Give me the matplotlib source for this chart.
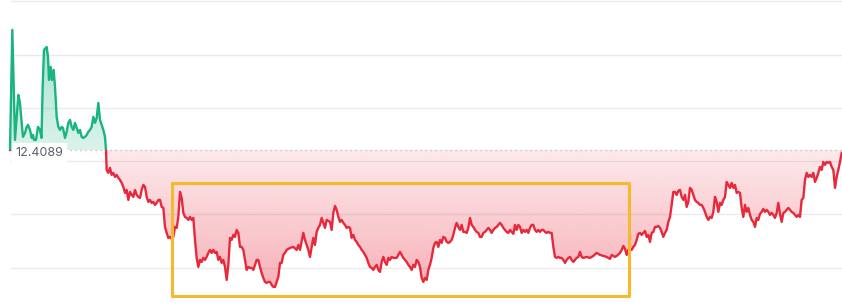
import numpy as np
import matplotlib
matplotlib.use("Agg")
import matplotlib.pyplot as plt
from matplotlib.colors import to_rgb
from matplotlib.patches import Rectangle

# --- data: intraday price, minutes since the open ---
open_price = 12.4089

minutes = ([0, 1.4, 3, 5, 6, 7, 7.8, 9, 10, 10.8, 12, 13, 13.8, 14.4, 15.6, 16.8, 18, 18.9,
            19.6, 20.4, 22, 22.8, 23.4, 24.4, 25.2, 26.2, 27, 28, 29, 30, 31, 31.8]
           + list(range(33, 58)) + [57.6]
           + list(range(58, 167)) + [168, 170, 172, 173, 174] + list(range(176, 191)) + [192]
           + list(range(193, 231)) + list(range(232, 237)) + list(range(238, 345))
           + [346, 348, 350, 352, 354, 356, 358] + list(range(360, 365)) + list(range(366, 500)))

prices = [
    # first hour, above the open
    12.4089, 12.529, 12.419, 12.464, 12.456, 12.436, 12.422, 12.426, 12.432, 12.434,
    12.429, 12.421, 12.424, 12.419, 12.419, 12.432, 12.429, 12.421, 12.472, 12.509,
    12.512, 12.502, 12.479, 12.492, 12.479, 12.489, 12.472, 12.442, 12.432, 12.429,
    12.432, 12.431, 12.421, 12.427, 12.436, 12.439, 12.432, 12.429, 12.436, 12.431,
    12.426, 12.429, 12.422, 12.421, 12.422, 12.424, 12.427, 12.429, 12.432, 12.442,
    12.436, 12.441, 12.456, 12.439, 12.434, 12.429, 12.422, 12.4089,
    # 58 - 166
    12.389, 12.386, 12.391, 12.384, 12.386, 12.382, 12.384, 12.381, 12.379, 12.376,
    12.372, 12.366, 12.369, 12.359, 12.367, 12.364, 12.362, 12.369, 12.364, 12.362,
    12.361, 12.369, 12.374, 12.372, 12.362, 12.357, 12.359, 12.356, 12.357, 12.354,
    12.356, 12.359, 12.359, 12.352, 12.351, 12.332, 12.326, 12.321, 12.322, 12.320,
    12.322, 12.332, 12.331, 12.342, 12.367, 12.361, 12.346, 12.342, 12.341, 12.339,
    12.342, 12.339, 12.341, 12.319, 12.301, 12.292, 12.299, 12.297, 12.301, 12.299,
    12.302, 12.306, 12.309, 12.306, 12.309, 12.306, 12.307, 12.299, 12.302, 12.296,
    12.299, 12.292, 12.279, 12.294, 12.321, 12.319, 12.324, 12.322, 12.329, 12.326,
    12.312, 12.312, 12.309, 12.299, 12.289, 12.292, 12.291, 12.291, 12.289, 12.294,
    12.299, 12.299, 12.292, 12.286, 12.281, 12.277, 12.276, 12.277, 12.277, 12.274,
    12.272, 12.272, 12.277, 12.282, 12.296, 12.296, 12.304, 12.306, 12.309,
    # 168 - 192
    12.311, 12.312, 12.309, 12.314, 12.309, 12.326, 12.319, 12.314, 12.309, 12.302,
    12.312, 12.321, 12.314, 12.327, 12.331, 12.334, 12.341, 12.336, 12.331, 12.339,
    12.337,
    # 193 - 230
    12.329, 12.346, 12.353, 12.349, 12.342, 12.337, 12.339, 12.336, 12.334, 12.331,
    12.332, 12.331, 12.321, 12.324, 12.319, 12.317, 12.314, 12.312, 12.309, 12.307,
    12.304, 12.301, 12.296, 12.292, 12.291, 12.289, 12.292, 12.294, 12.289, 12.287,
    12.297, 12.302, 12.297, 12.294, 12.301, 12.299, 12.302, 12.301,
    # 232 - 236
    12.301, 12.304, 12.307, 12.304, 12.301,
    # 238 - 344
    12.297,
    12.294, 12.292, 12.289, 12.294, 12.292, 12.299, 12.297, 12.292, 12.281, 12.277,
    12.281, 12.279, 12.289, 12.294, 12.301, 12.311, 12.316, 12.317, 12.312, 12.319,
    12.316, 12.322, 12.321, 12.317, 12.316, 12.317, 12.319, 12.324, 12.331, 12.336,
    12.332, 12.329, 12.334, 12.327, 12.327, 12.326, 12.331, 12.341, 12.334, 12.332,
    12.329, 12.327, 12.326, 12.322, 12.322, 12.326, 12.327, 12.329, 12.331, 12.329,
    12.326, 12.329, 12.331, 12.332, 12.334, 12.336, 12.334, 12.331, 12.329, 12.327,
    12.326, 12.329, 12.327, 12.325,
    12.334, 12.329, 12.334, 12.332, 12.326, 12.329, 12.327, 12.329, 12.326, 12.331,
    12.334, 12.334, 12.329, 12.327, 12.329, 12.327, 12.329, 12.329, 12.327, 12.326,
    12.327, 12.326, 12.326, 12.312, 12.302, 12.301, 12.302, 12.301, 12.301, 12.299,
    12.296, 12.299, 12.301, 12.302, 12.299, 12.297, 12.299, 12.301, 12.302, 12.307,
    12.302, 12.301,
    # 346 - 358
    12.302, 12.301, 12.303, 12.306, 12.304, 12.303, 12.302,
    # 360 - 364
    12.300, 12.304, 12.303, 12.302, 12.303,
    # 366 - 499
    12.306,
    12.309, 12.313, 12.310, 12.304, 12.309, 12.310, 12.309, 12.312, 12.314, 12.319,
    12.325, 12.326, 12.324, 12.326, 12.328, 12.322, 12.324, 12.317, 12.326, 12.327,
    12.332, 12.332, 12.333, 12.331, 12.327, 12.322, 12.326, 12.329, 12.337, 12.342,
    12.354, 12.367, 12.367, 12.364, 12.368, 12.369, 12.362, 12.359, 12.364, 12.352,
    12.357, 12.371, 12.369, 12.364, 12.359, 12.357, 12.356, 12.354, 12.354, 12.351,
    12.347, 12.342, 12.339, 12.342, 12.341, 12.347, 12.362, 12.357, 12.347, 12.356,
    12.354, 12.359, 12.362, 12.377, 12.374, 12.371, 12.376, 12.371, 12.374, 12.366,
    12.367, 12.366, 12.351, 12.342, 12.354, 12.347, 12.351, 12.344, 12.339, 12.337,
    12.332, 12.341, 12.339, 12.345, 12.347, 12.350, 12.347, 12.349, 12.347, 12.344,
    12.346, 12.344, 12.341, 12.346, 12.356, 12.345, 12.337, 12.346, 12.347, 12.349,
    12.351, 12.349, 12.347, 12.346, 12.344, 12.342, 12.344, 12.342, 12.359, 12.361,
    12.379, 12.386, 12.382, 12.384, 12.382, 12.386, 12.377, 12.381, 12.386, 12.392,
    12.389, 12.397, 12.394, 12.397, 12.396, 12.397, 12.392, 12.389, 12.371, 12.382,
    12.389, 12.397, 12.406,
]

grid_levels = [12.2909, 12.3449, 12.3979, 12.4509, 12.5039, 12.5579]

# highlighted consolidation window
box_start, box_end = 97.2, 371.4
box_low, box_high = 12.2629, 12.3759

# --- styling ---
GREEN = "#19b47f"
RED = "#e8283b"
BOX = "#f6b92b"
x_lo, x_hi = -6, 499.2
y_lo, y_hi = 12.2519, 12.5589

minutes = np.array(minutes, dtype=float)
prices = np.array(prices)

fig = plt.figure(figsize=(8.42, 3.07), dpi=100)
ax = fig.add_axes([0, 0, 1, 1])
ax.set_axis_off()

# grid
ax.hlines(grid_levels, 0, x_hi, colors="#ebebeb", lw=1.0, zorder=0)

# area between price and the open, gradient shaded
area = ax.fill_between(minutes, prices, open_price, color="none", lw=0)
area_path = area.get_paths()[0]


def gradient(color, y0, y1, a0, a1):
    g = np.zeros((256, 1, 4))
    g[..., :3] = to_rgb(color)
    g[:, 0, 3] = np.linspace(a0, a1, 256)
    im = ax.imshow(g, extent=[x_lo, x_hi, y0, y1], origin="lower",
                   aspect="auto", zorder=1, interpolation="bilinear")
    im.set_clip_path(area_path, ax.transData)


gradient(GREEN, open_price, prices.max(), 0.16, 0.40)
gradient(RED, prices.min(), open_price, 0.36, 0.10)

# price line: green above the open, red below
for color, lo, hi in [(GREEN, open_price, y_hi), (RED, y_lo, open_price)]:
    ln, = ax.plot(minutes, prices, color=color, lw=1.7, zorder=3,
                  solid_joinstyle="round")
    ln.set_clip_path(Rectangle((x_lo, lo), x_hi - x_lo, hi - lo, transform=ax.transData))

# open price reference
ax.hlines(open_price, 0, x_hi, colors="#d3a9ae", linestyles=(0, (1, 3)), lw=0.9, zorder=2)
ax.text(3.4, open_price - 0.003, "12.4089", fontsize=9, family="Inter", color="#59616d",
        va="center", ha="left", zorder=5,
        bbox=dict(facecolor="white", edgecolor="none", boxstyle="square,pad=0.3"))

# highlight box
ax.add_patch(Rectangle((box_start, box_low), box_end - box_start, box_high - box_low,
                       fill=False, edgecolor=BOX, lw=2.2, joinstyle="round", zorder=4))

ax.set_xlim(x_lo, x_hi)
ax.set_ylim(y_lo, y_hi)

fig.savefig("out.png", dpi=100, facecolor="white")
